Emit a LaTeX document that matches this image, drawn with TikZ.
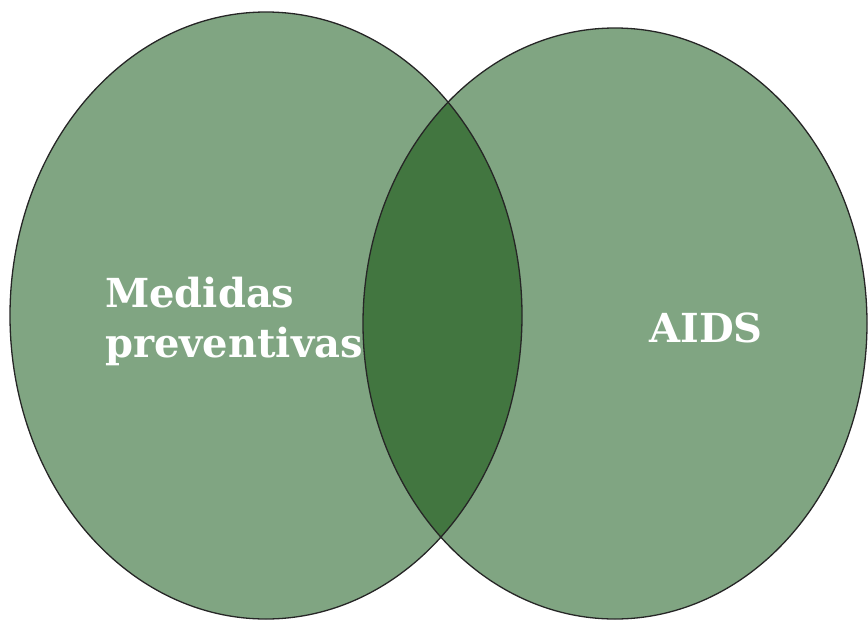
\documentclass[tikz,border=0pt]{standalone}
\usepackage{fontspec}
\setmainfont{DejaVu Serif}
\definecolor{lightg}{RGB}{128,165,130}
\definecolor{darkg}{RGB}{66,118,64}
\begin{document}
\begin{tikzpicture}[x=1pt,y=-1pt,
  lbl/.style={text=white,font=\bfseries\fontsize{40}{50}\selectfont,inner sep=0pt}]
\useasboundingbox (0,0) rectangle (868,619);
\fill[lightg] (266,315.5) ellipse [x radius=256, y radius=303.5];
\fill[lightg] (615,323.5) ellipse [x radius=252, y radius=295.5];
\begin{scope}
\clip (266,315.5) ellipse [x radius=256, y radius=303.5];
\fill[darkg] (615,323.5) ellipse [x radius=252, y radius=295.5];
\end{scope}
\draw[line width=1.3pt,black!85] (266,315.5) ellipse [x radius=256, y radius=303.5];
\draw[line width=1.3pt,black!85] (615,323.5) ellipse [x radius=252, y radius=295.5];
\node[lbl,anchor=base west] (m) at (105,307) {Medidas};
\node[lbl,anchor=base west] (p) at (105,357) {preventivas};
\node[lbl,anchor=base] (a) at (706,342) {AIDS};
\end{tikzpicture}
\end{document}
